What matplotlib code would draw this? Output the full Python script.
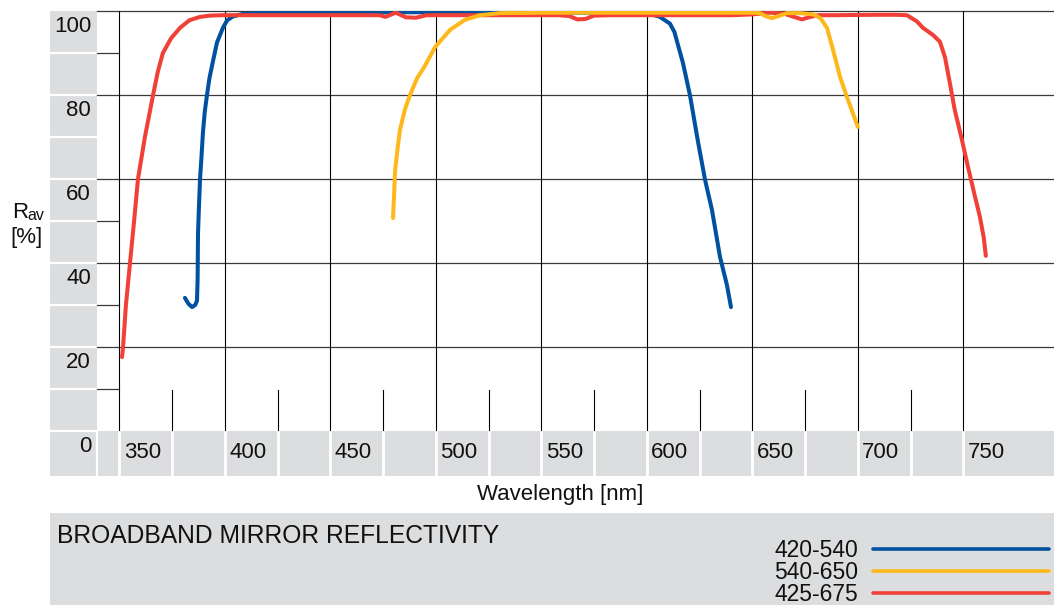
import matplotlib
matplotlib.use('Agg')
import matplotlib.pyplot as plt
import matplotlib.transforms as mtransforms
from matplotlib.patches import Rectangle

plt.rcParams['font.family'] = ['Liberation Sans', 'DejaVu Sans']

# ---------------- data ----------------
blue_nm = [381.11, 382.75, 384.50, 385.95, 386.82, 387.11, 387.30, 387.79, 388.27, 389.04,
           389.63, 390.50, 391.56, 392.72, 394.37, 396.30, 399.11, 401.14, 403.85, 408.40,
           418.08, 437.43, 456.79, 476.15, 495.50, 514.86, 534.21, 553.57, 572.93, 592.28,
           600.51, 606.22, 610.96, 613.09, 614.73, 617.15, 620.44, 624.22, 627.61, 630.90,
           634.67, 637.96, 639.90]
blue_r = [31.7, 30.3, 29.5, 30.0, 31.0, 36, 47, 54, 60, 66,
          71, 76, 80, 84, 88, 92.5, 96, 97.8, 98.7, 99.3,
          99.6, 99.7, 99.7, 99.7, 99.7, 99.6, 99.6, 99.6, 99.6, 99.6,
          99.5, 98.6, 97, 95, 92, 87.6, 80, 69, 59.8, 52.6,
          41.5, 34.8, 29.5]

red_nm = [351.30, 351.78, 353.14, 355.07, 357.01, 358.85, 362.14, 366.01, 368.24, 370.66,
          374.53, 378.79, 383.24, 388.27, 392.92, 398.72, 408.40, 427.76, 447.11, 466.47,
          473.24, 476.15, 480.99, 485.82, 490.66, 495.50, 505.18, 524.54, 543.89, 558.41,
          563.25, 567.12, 570.99, 574.86, 582.60, 601.96, 621.32, 640.67, 650.35, 658.09,
          664.87, 669.71, 673.58, 677.45, 681.32, 689.06, 708.42, 718.10, 723.32, 728.06,
          730.87, 735.61, 738.90, 741.32, 743.65, 745.97, 749.36, 752.16, 755.45, 757.87,
          759.71, 760.68]
red_r = [17.6, 20, 30, 40, 50, 60, 70, 80, 85.5, 90,
         93.5, 96, 97.8, 98.6, 98.9, 99.0, 99.0, 99.0, 99.0, 99.0,
         99.0, 98.6, 99.6, 98.5, 98.4, 99.0, 99.0, 99.0, 99.0, 99.0,
         98.8, 98.0, 98.1, 98.9, 99.0, 99.0, 99.0, 99.0, 99.2, 99.6,
         99.4, 98.6, 98.0, 98.6, 99.0, 99.0, 99.1, 99.1, 99.0, 97.5,
         96.0, 94.3, 92.7, 89.0, 82.8, 76.4, 69.3, 63.0, 56.0, 51.0,
         46.0, 41.7]

orange_nm = [479.73, 480.21, 480.70, 481.95, 483.02, 485.34, 487.76, 491.15, 494.92, 499.66,
             506.73, 513.79, 520.96, 530.44, 553.57, 592.28, 630.99, 650.35, 653.64, 656.16,
             659.35, 662.45, 666.42, 672.61, 678.80, 682.29, 685.38, 688.29, 691.58, 694.87,
             700.0]
orange_r = [50.7, 56, 62, 67.5, 71.7, 76.5, 80, 84, 87, 91.4,
            95.5, 97.9, 99.0, 99.5, 99.6, 99.6, 99.6, 99.6, 99.5, 98.8,
            98.3, 98.8, 99.5, 99.5, 99.2, 98.3, 96.0, 90.7, 84.3, 79.5,
            72.4]

series_labels = ['420-540', '540-650', '425-675']
series_colors = ['#0052a0', '#ffb81c', '#f04038']

x_major = [350, 400, 450, 500, 550, 600, 650, 700, 750]
x_minor = [375, 425, 475, 525, 575, 625, 675, 725]
y_grid = [20, 40, 60, 80, 100]
y_short = [10, 30, 50, 90]
y_ticklabels = [0, 20, 40, 60, 80, 100]

title = 'BROADBAND MIRROR REFLECTIVITY'
xlabel = 'Wavelength [nm]'

# ---------------- figure ----------------
W, H = 1054, 605
GRAY = '#dcdddf'
fig = plt.figure(figsize=(W / 100, H / 100), dpi=100)

ax = fig.add_axes([97 / W, 1 - 431 / H, (W - 97) / W, 420 / H])
k = 400 / 844.0          # nm per pixel
x350 = 119.3             # pixel of 350 nm
ax.set_xlim(350 + (97 - x350) * k, 350 + (W - x350) * k)
ax.set_ylim(0, 100)
ax.axis('off')
ax.patch.set_visible(False)

# pixel transform (top-left origin)
tpx = mtransforms.Affine2D().scale(1 / W, -1 / H).translate(0, 1) + fig.transFigure
t_xd_ypx = mtransforms.blended_transform_factory(ax.transData, tpx)
t_xpx_yd = mtransforms.blended_transform_factory(tpx, ax.transData)

# gray panels
ax.add_patch(Rectangle((50, 11), 46.5, 465, transform=tpx, fc=GRAY, ec='none',
                       clip_on=False, zorder=0))
ax.add_patch(Rectangle((50, 431), W - 50, 45, transform=tpx, fc=GRAY, ec='none',
                       clip_on=False, zorder=0))
ax.add_patch(Rectangle((50, 513), W - 50, 92, transform=tpx, fc=GRAY, ec='none',
                       clip_on=False, zorder=0))

# white separators in the left column
for v in range(0, 100, 10):
    ax.plot([50, 96.5], [v, v], transform=t_xpx_yd, color='white', lw=1.6,
            clip_on=False, zorder=0.5, solid_capstyle='butt')
# white separators in bottom band
ax.plot([97, 97], [431, 476], transform=tpx, color='white', lw=1.6, clip_on=False,
        zorder=0.5, solid_capstyle='butt')
for xv in x_major + x_minor:
    ax.plot([xv, xv], [431, 476], transform=t_xd_ypx, color='white', lw=2.0,
            clip_on=False, zorder=0.5, solid_capstyle='butt')

# grid
for v in y_grid:
    ax.axhline(v, color='#3a3a3a', lw=0.9, clip_on=False, zorder=1)
x0 = ax.get_xlim()[0]
for v in y_short:
    ax.plot([x0, 350], [v, v], color='#3a3a3a', lw=0.9, clip_on=False, zorder=1)
for xv in x_major:
    ax.axvline(xv, 0, 1, color='black', lw=0.8, zorder=1)
for xv in x_minor:
    ax.axvline(xv, 0, 41 / 420, color='black', lw=0.8, zorder=1)

# curves
ax.plot(blue_nm, blue_r, color=series_colors[0], lw=2.9, zorder=3, solid_capstyle='round')
ax.plot(red_nm, red_r, color=series_colors[2], lw=2.9, zorder=4, solid_capstyle='round')
ax.plot(orange_nm, orange_r, color=series_colors[1], lw=2.9, zorder=5, solid_capstyle='round')

# tick labels
FS = 16
ty = mtransforms.offset_copy(t_xpx_yd, fig=fig, x=0, y=-21, units='dots')
for v in y_ticklabels:
    ax.text(91, v, str(v), transform=ty, ha='right', va='baseline', fontsize=FS,
            color='#111111', clip_on=False)
tx = mtransforms.offset_copy(t_xd_ypx, fig=fig, x=4.5, y=0, units='dots')
for xv in x_major:
    ax.text(xv, 458, str(xv), transform=tx, ha='left', va='baseline', fontsize=FS,
            color='#111111', clip_on=False)

ax.text(560, 500, xlabel, transform=tpx, ha='center', va='baseline', fontsize=FS,
        color='#111111')

# y-axis label
ax.text(12, 218, 'R', transform=tpx, ha='left', va='baseline', fontsize=FS, color='#111111')
ax.text(27, 220, 'av', transform=tpx, ha='left', va='baseline', fontsize=11.5, color='#111111')
ax.text(10, 243, '[%]', transform=tpx, ha='left', va='baseline', fontsize=FS, color='#111111')

# title and legend
ax.text(57, 543, title, transform=tpx, ha='left', va='baseline', fontsize=17.7, color='#111111')
leg_y = [549, 571, 593]
for lab, col, yy in zip(series_labels, series_colors, leg_y):
    ax.text(858, yy + 8, lab, transform=tpx, ha='right', va='baseline', fontsize=16.5,
            color='#111111')
    ax.plot([873, 1049], [yy, yy], transform=tpx, color=col, lw=2.6, clip_on=False,
            solid_capstyle='round')

fig.savefig('out.png', dpi=100)
